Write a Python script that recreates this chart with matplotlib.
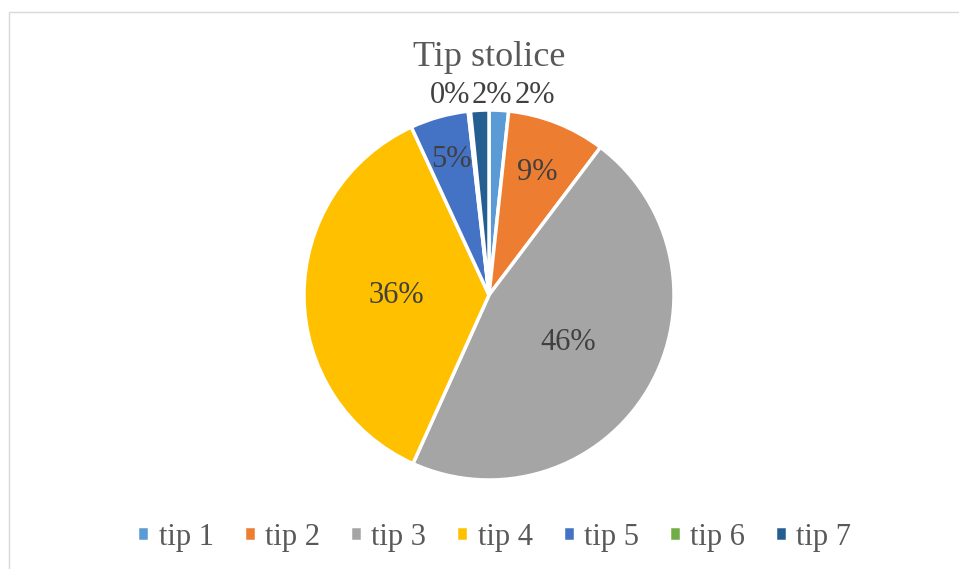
import numpy as np
import matplotlib.pyplot as plt
from matplotlib.patches import Rectangle

plt.rcParams['font.family'] = ['Liberation Serif', 'DejaVu Serif']

# data
labels = ["tip 1", "tip 2", "tip 3", "tip 4", "tip 5", "tip 6", "tip 7"]
values = [1.7, 8.6, 46.5, 36.4, 5.1, 0.2, 1.6]
colors = ["#5B9BD5", "#ED7D31", "#A5A5A5", "#FFC000", "#4472C4", "#70AD47", "#255E91"]
pct_labels = ["2%", "9%", "46%", "36%", "5%", "0%", "2%"]

W, H = 959, 569
fig = plt.figure(figsize=(W / 100, H / 100), dpi=100)

# chart frame (only top and left edges fall inside the image)
fig.patches.append(Rectangle((8.5 / W, -0.1), 1.2, 1.1 - 12.5 / H, transform=fig.transFigure,
                             fill=False, edgecolor="#D9D9D9", linewidth=1))

cx, cy, r = 489, 295, 185
ax = fig.add_axes([(cx - r) / W, (H - cy - r) / H, 2 * r / W, 2 * r / H])
wedges, _ = ax.pie(values, colors=colors, startangle=90, counterclock=False,
                   wedgeprops=dict(edgecolor="white", linewidth=2.5))
ax.set_xlim(-1, 1)
ax.set_ylim(-1, 1)
ax.set_aspect("equal")
ax.axis("off")

# percentage labels: inside for large slices, above the pie for the tiny ones
inside = {1: 0.71, 2: 0.5, 3: 0.5, 4: 0.76}
outside = {0: (0.249, 1.081), 6: (0.016, 1.081), 5: (-0.211, 1.081)}
for i, w in enumerate(wedges):
    if i in inside:
        ang = np.deg2rad((w.theta1 + w.theta2) / 2)
        x, y = inside[i] * np.cos(ang), inside[i] * np.sin(ang)
    else:
        x, y = outside[i]
    ax.text(x, y, pct_labels[i], ha="center", va="center", fontsize=22,
            color="#404040", clip_on=False)

fig.text(0.51, 1 - 57 / H, "Tip stolice", ha="center", va="center",
         fontsize=26, color="#595959")

fig.legend(wedges, labels, loc="center", bbox_to_anchor=(0.5155, 1 - 537 / H),
           ncol=7, frameon=False, fontsize=22, handlelength=0.4, handleheight=0.4,
           handletextpad=0.3, columnspacing=0.98, labelcolor="#595959")

fig.savefig("out.png", dpi=100)
